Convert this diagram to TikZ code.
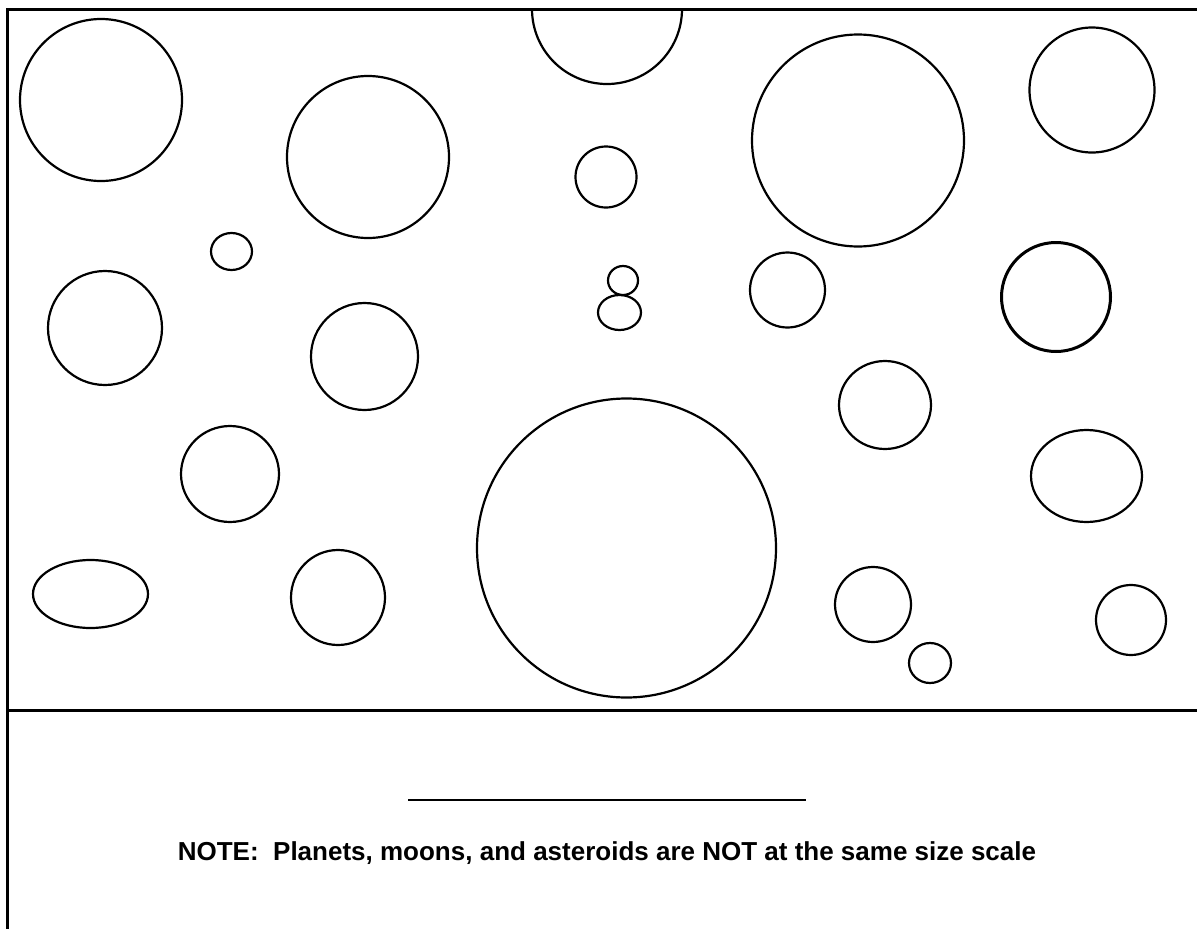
\documentclass[tikz,border=0pt]{standalone}
\usepackage{fontspec}
\setmainfont{Liberation Sans}
\begin{document}
\begin{tikzpicture}[x=1pt,y=-1pt,
  body/.style={draw=black,line width=2.2pt},
  heavybody/.style={draw=black,line width=3pt},
  frame/.style={draw=black,line width=3pt},
  rule/.style={draw=black,line width=1.5pt},
  note/.style={font=\bfseries\fontsize{26}{30}\selectfont,anchor=base,inner sep=0pt}]
\useasboundingbox[fill=white] (0,0) rectangle (1197,929);
% frame
\draw[frame] (1197,9) -- (7,9) -- (7,929);
\draw[frame] (7,710) -- (1197,710);
% top half circle
\begin{scope}
  \clip (0,9) rectangle (1197,929);
  \draw[body] (607,9) circle (75);
\end{scope}
% bodies
\draw[body] (101,100) circle (81);
\draw[body] (368,157) circle (81);
\draw[body] (606,177) circle (30.5);
\draw[body] (858,140.5) circle (106);
\draw[body] (1092,90) circle (62.5);
\draw[body] (231.5,251.5) ellipse [x radius=20.5, y radius=18.5];
\draw[body] (105,328) circle (57);
\draw[body] (623,280.5) ellipse [x radius=15, y radius=14.5];
\draw[body] (619.5,312.5) ellipse [x radius=21.5, y radius=17.5];
\draw[body] (787.5,290) circle (37.5);
\draw[heavybody] (1056,297) circle (54.5);
\draw[body] (364.5,356.5) circle (53.5);
\draw[body] (885,405) ellipse [x radius=46, y radius=44];
\draw[body] (230,474) ellipse [x radius=49, y radius=48];
\draw[body] (626.5,548) circle (149.5);
\draw[body] (1086.5,476) ellipse [x radius=55.5, y radius=46];
\draw[body] (90.5,594) ellipse [x radius=57.5, y radius=34];
\draw[body] (338,597.5) ellipse [x radius=47, y radius=47.5];
\draw[body] (873,604.5) ellipse [x radius=38, y radius=37.5];
\draw[body] (930,663) ellipse [x radius=21, y radius=20];
\draw[body] (1131,620) circle (35);
% answer line and note
\coordinate (lineL) at (408,800);
\coordinate (lineR) at (806,800);
\draw[rule] (lineL) -- (lineR);
\node[note] (notetext) at (607,860) {NOTE:\ \ Planets, moons, and asteroids are NOT at the same size scale};
\end{tikzpicture}
\end{document}
